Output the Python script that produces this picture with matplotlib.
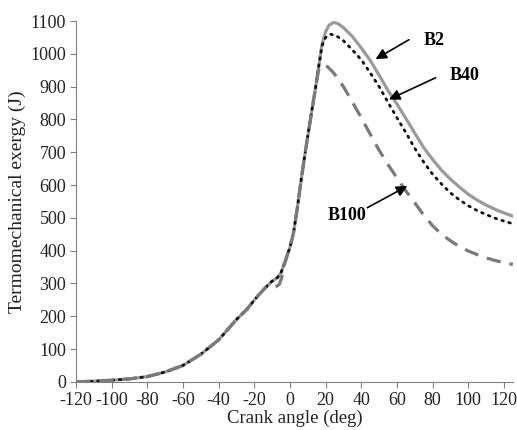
import matplotlib
matplotlib.use('Agg')
import matplotlib.pyplot as plt

plt.rcParams['font.family'] = ['Liberation Serif', 'DejaVu Serif']
plt.rcParams['axes.unicode_minus'] = False

# shared rise (all three fuels overlap until the bump near TDC)
crank_common = [-120, -110, -100, -90, -80, -70, -60, -50, -40, -30, -24, -19, -14]
exergy_common = [0, 2, 5, 9, 16, 30, 50, 84, 128, 190, 222, 256, 286]

# rise after the bump, same for every fuel
crank_rise = [-10, -7, -5, -3, -1, 0, 2, 4, 6, 8, 10, 12, 14, 16]
exergy_rise = [307, 318, 333, 363, 395, 410, 455, 525, 605, 680, 750, 818, 885, 958]

crank_b2 = [18, 20, 22, 24.6, 27, 30, 35, 40, 45, 50, 55, 60, 65, 70, 75, 80,
            85, 90, 95, 100, 105, 110, 115, 120, 125]
exergy_b2 = [1030, 1068, 1088, 1096, 1092, 1080, 1053, 1018, 980, 935, 888, 847, 803, 758,
             714, 678, 645, 618, 594, 572, 554, 539, 526, 515, 505]

crank_b40 = [18, 20, 22.8, 26, 30, 35, 40, 45, 50, 55, 60, 65, 70, 75, 80,
             85, 90, 95, 100, 105, 110, 115, 120, 125]
exergy_b40 = [1025, 1050, 1060, 1055, 1040, 1012, 982, 942, 900, 852, 805, 760, 712, 670,
              633, 603, 576, 555, 537, 522, 510, 499, 490, 482]

crank_b100_bump = [-12, -10, -8, -6, -4.5, -3, -1, 0, 2, 4, 6, 8, 10, 12, 14, 16]
exergy_b100_bump = [287, 288, 290, 297, 320, 360, 395, 410, 455, 525, 605, 680, 750, 818, 885, 950]
crank_b100 = [17.5, 19, 21, 24, 27, 30, 35, 40, 45, 50, 55, 60, 65, 70, 75, 80,
              85, 90, 95, 100, 105, 110, 115, 120, 125]
exergy_b100 = [964, 967, 961, 945, 924, 900, 853, 805, 755, 706, 662, 622, 582, 546, 508, 476,
               450, 430, 413, 399, 388, 378, 370, 363, 358]

fig = plt.figure(figsize=(5.17, 4.30), dpi=100)
ax = fig.add_axes([0.147, 0.112, 0.845, 0.839])

ax.plot(crank_common + crank_rise + crank_b2, exergy_common + exergy_rise + exergy_b2,
        color='#9a9a9a', lw=2.3, solid_capstyle='round', solid_joinstyle='round')
ax.plot(crank_common + crank_rise + crank_b40, exergy_common + exergy_rise + exergy_b40,
        color='#111111', lw=2.0, linestyle=(0, (0.6, 2.0)), dash_capstyle='round')
ax.plot(crank_common + crank_b100_bump + crank_b100, exergy_common + exergy_b100_bump + exergy_b100,
        color='#7a7a7a', lw=2.3, linestyle=(0, (4.5, 2.8)))

arrow = dict(arrowstyle='-|>', color='black', lw=1.2, mutation_scale=16, shrinkA=0, shrinkB=0)
label_kw = dict(fontsize=13, fontweight='bold', va='center', ha='center')
ax.annotate('', xy=(48, 984), xytext=(66.7, 1043), arrowprops=arrow)
ax.text(81, 1040, 'B2', **label_kw)
ax.annotate('', xy=(55.5, 861), xytext=(81.6, 927), arrowprops=arrow)
ax.text(98, 933, 'B40', **label_kw)
ax.annotate('', xy=(65.8, 597), xytext=(43.4, 531), arrowprops=arrow)
ax.text(32, 506, 'B100', **label_kw)

ax.set_xlim(-120, 125)
ax.set_ylim(0, 1100)
ax.set_xticks(range(-120, 121, 20))
ax.set_yticks(range(0, 1101, 100))
for side in ('top', 'right'):
    ax.spines[side].set_visible(False)
for side in ('left', 'bottom'):
    ax.spines[side].set_color('#808080')
ax.tick_params(direction='out', length=4, color='#808080', labelsize=13, labelcolor='#222222', pad=3)
ax.set_xlabel('Crank angle (deg)', fontsize=13.5, color='#222222', labelpad=1)
ax.set_ylabel('Termomechanical exergy (J)', fontsize=14, color='#222222', labelpad=3)

fig.savefig('out.png', dpi=100)
